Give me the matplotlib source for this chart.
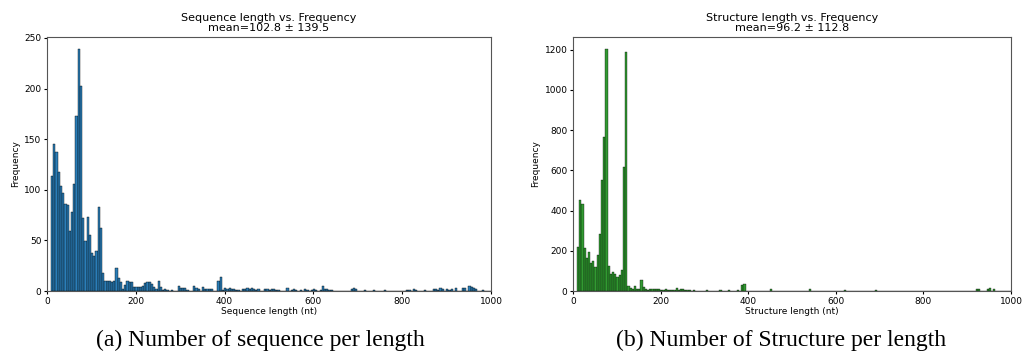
import matplotlib
matplotlib.use("Agg")
import matplotlib.pyplot as plt
import numpy as np

# bin edges: 5 nt bins starting at 9 nt
bin_start = 9
bin_width = 5
n_bins = 198

# sequence length counts per bin (index -> count)
seq_head = [114, 145, 137, 118, 104, 97, 86, 85, 59, 78,
            106, 173, 239, 203, 72, 49, 73, 55, 38, 35,
            40, 83, 62, 18, 10, 10, 10, 9, 10, 23,
            13, 9, 2, 6, 10, 9, 9, 4, 4, 4,
            4, 5, 8, 9, 9, 7, 4, 2, 10, 4,
            1, 2, 1, 0, 1, 0, 0, 5, 3, 3,
            3, 1, 0, 0, 5, 3, 2, 0, 4, 2,
            2, 2, 2, 0, 0, 10, 14, 1, 3, 2,
            3, 2, 2, 1, 1, 0, 2, 2, 3, 2,
            3, 2, 1, 2, 0, 0, 2, 2, 1, 2,
            2, 1, 1, 0, 0, 0, 3, 0, 1, 2,
            1, 0, 1, 0, 2, 1, 0, 1, 2, 1,
            0, 1, 5, 2, 2, 1, 1]
seq_tail = {135: 2, 136: 3, 137: 2, 141: 1, 145: 1, 150: 1, 160: 1, 161: 1,
            163: 2, 164: 1, 168: 1, 172: 2, 173: 2, 174: 1, 175: 3, 176: 2,
            178: 2, 179: 1, 180: 2, 182: 3, 185: 3, 186: 3, 188: 5, 189: 4,
            190: 3, 191: 2, 194: 1}

# structure length counts per bin
struct_head = [217, 451, 435, 216, 164, 194, 138, 149, 120, 179,
               284, 553, 767, 1203, 123, 85, 93, 83, 71, 80,
               106, 616, 1190, 25, 13, 12, 25, 12, 12, 55,
               22, 8, 5, 10, 8, 10, 8, 8, 7, 5,
               8, 7, 6, 5, 6, 15, 6, 12, 8, 5,
               6, 3, 2, 3, 2, 1, 2, 2, 1, 3,
               2, 1, 2, 1, 2, 3, 2, 1, 2, 3,
               2, 1, 2, 3, 2, 28, 35, 0, 1, 1,
               2, 1, 1, 0]
struct_tail = {88: 10, 92: 2, 97: 2, 106: 12, 109: 2, 122: 7, 127: 2, 136: 7,
               176: 1, 182: 10, 183: 8, 187: 10, 188: 15, 190: 12}

seq_title = "Sequence length vs. Frequency\nmean=102.8 ± 139.5"
struct_title = "Structure length vs. Frequency\nmean=96.2 ± 112.8"
caption_a = "(a) Number of sequence per length"
caption_b = "(b) Number of Structure per length"


def build_counts(head, tail):
    counts = np.zeros(n_bins)
    counts[:len(head)] = head
    for i, c in tail.items():
        counts[i] = c
    return counts


edges = bin_start + bin_width * np.arange(n_bins + 1)
seq_counts = build_counts(seq_head, seq_tail)
struct_counts = build_counts(struct_head, struct_tail)

fig = plt.figure(figsize=(10.22, 3.64), dpi=100)
ax1 = fig.add_axes([0.046, 0.2005, 0.4344, 0.6978])
ax2 = fig.add_axes([0.5607, 0.2005, 0.4286, 0.6978])

panels = [
    (ax1, seq_counts, "#1f77b4", 0.95, seq_title, "Sequence length (nt)"),
    (ax2, struct_counts, "green", 0.8, struct_title, "Structure length (nt)"),
]
for ax, counts, color, alpha, title, xlabel in panels:
    ax.hist(edges[:-1], bins=edges, weights=counts, color=color,
            edgecolor="black", linewidth=0.3, alpha=alpha)
    ax.set_xlim(0, 1000)
    ax.set_xticks(np.arange(0, 1001, 200))
    ax.set_title(title, fontsize=8, pad=4, linespacing=1.1)
    ax.set_xlabel(xlabel, fontsize=6.5, labelpad=1)
    ax.set_ylabel("Frequency", fontsize=6.5, labelpad=3)
    ax.tick_params(labelsize=6.5, length=2.5, pad=1.5)
    for sp in ax.spines.values():
        sp.set_color("#555555")
        sp.set_linewidth(0.8)

ax1.set_yticks(np.arange(0, 251, 50))
ax2.set_yticks(np.arange(0, 1201, 200))

fig.text(0.255, 0.065, caption_a, family="Liberation Serif", fontsize=17,
         ha="center", va="center")
fig.text(0.764, 0.065, caption_b, family="Liberation Serif", fontsize=17,
         ha="center", va="center")

fig.savefig("out.png", dpi=100)
